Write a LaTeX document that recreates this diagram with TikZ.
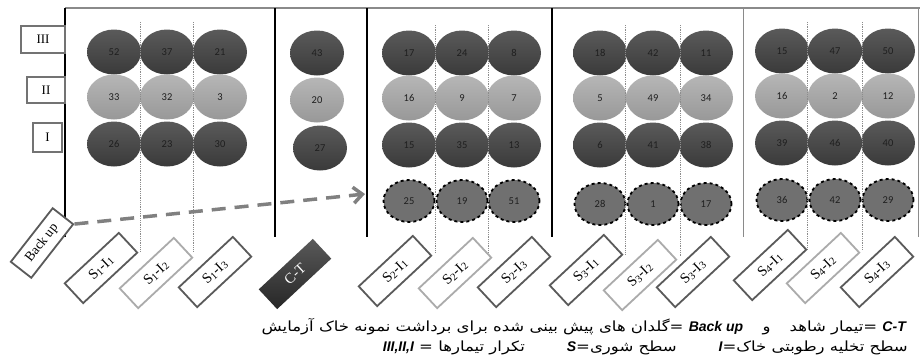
\documentclass[tikz,border=0pt]{standalone}
\usepackage{fontspec}
\setmainfont{Liberation Serif}
\newfontfamily\numfont{Carlito}
\newfontfamily\fafont[Script=Arabic,FakeStretch=1.18]{DejaVu Sans}
\newfontfamily\latbf{Liberation Sans}
\TeXXeTstate=1
\usetikzlibrary{shapes.geometric,arrows.meta}
\definecolor{darkA}{HTML}{5A5A5A}
\definecolor{darkB}{HTML}{3A3A3A}
\definecolor{lightA}{HTML}{B6B6B6}
\definecolor{lightB}{HTML}{989898}
\definecolor{bkgray}{HTML}{707070}
\definecolor{framegray}{HTML}{8A8A8A}
\definecolor{boxdark}{HTML}{5A5A5A}
\definecolor{boxlight}{HTML}{ABABAB}
\newcommand\lat[1]{{\latbf\bfseries\itshape\beginL #1\endL}}
\newcommand\subd[1]{\raisebox{-0.2ex}{\fontsize{10.5}{10.5}\selectfont #1}}
\newcommand\si[2]{S\subd{#1}-I\subd{#2}}
\tikzset{
  pot/.style={ellipse, minimum width=54pt, minimum height=45pt, inner sep=0pt,
    font=\numfont\fontsize{10.5}{10.5}\selectfont, text=black!88},
  dk/.style={pot, top color=darkA, bottom color=darkB},
  lt/.style={pot, top color=lightA, bottom color=lightB},
  bk/.style={pot, fill=bkgray, draw=black, dashed, line width=1.8pt,
    minimum width=51pt, minimum height=42pt},
  thickline/.style={line width=2.6pt, black},
  thinline/.style={line width=1pt, framegray},
  dotline/.style={line width=0.8pt, black!45, densely dotted},
  rowbox/.style={draw=black!55, line width=2.2pt, fill=white, inner sep=0pt,
    font=\fontsize{13}{13}\selectfont},
  lbox/.style={draw=boxdark, line width=1.8pt, fill=white, rotate=43,
    minimum width=74pt, minimum height=27pt, inner sep=0pt,
    font=\fontsize{14.5}{14.5}\selectfont},
  lboxl/.style={lbox, draw=boxlight},
  ctbox/.style={lbox, draw=none, top color=black!65, bottom color=black!85,
    text=white},
  bkarrow/.style={line width=3.5pt, color=black!50, dash pattern=on 14pt off 9pt,
    -{Straight Barb[length=9pt,width=16pt]}},
  note/.style={anchor=east, inner sep=0pt, font=\fafont\fontsize{14}{16}\selectfont}
}
\begin{document}
\begin{tikzpicture}[x=1pt,y=-1pt]
\useasboundingbox (0,0) rectangle (920,362);
% frame
\draw[line width=1.5pt, framegray] (65,8) -- (920,8);
\foreach \xx in {65,275,367,552} \draw[thickline] (\xx,8) -- (\xx,237);
\foreach \xx in {743,918} \draw[thinline] (\xx,8) -- (\xx,237);
% row labels
\node[rowbox, minimum width=44pt, minimum height=27pt] (rIII) at (43,39.5) {III};
\node[rowbox, minimum width=38pt, minimum height=26pt] (rII) at (46,90) {II};
\node[rowbox, minimum width=29pt, minimum height=29pt] (rI) at (47.5,137.5) {I};
% S1
\node[dk] (a31) at (114,52) {52}; \node[dk] (a32) at (167,52) {37}; \node[dk] (a33) at (220,52) {21};
\node[lt] (a21) at (114,97) {33}; \node[lt] (a22) at (167,97) {32}; \node[lt] (a23) at (220,97) {3};
\node[dk] (a11) at (114,144) {26}; \node[dk] (a12) at (167,144) {23}; \node[dk] (a13) at (220,144) {30};
% C-T
\node[dk] (c3) at (317,53) {43};
\node[lt] (c2) at (317,100) {20};
\node[dk] (c1) at (320,148) {27};
% S2
\node[dk] (b31) at (409,53) {17}; \node[dk] (b32) at (462,53) {24}; \node[dk] (b33) at (514,53) {8};
\node[lt] (b21) at (409,98) {16}; \node[lt] (b22) at (462,98) {9}; \node[lt] (b23) at (514,98) {7};
\node[dk] (b11) at (409,145) {15}; \node[dk] (b12) at (462,145) {35}; \node[dk] (b13) at (514,145) {13};
\node[bk] (b01) at (409,201) {25}; \node[bk] (b02) at (462,201) {19}; \node[bk] (b03) at (514,201) {51};
% S3
\node[dk] (d31) at (600,53) {18}; \node[dk] (d32) at (653,53) {42}; \node[dk] (d33) at (706,53) {11};
\node[lt] (d21) at (600,98) {5}; \node[lt] (d22) at (653,98) {49}; \node[lt] (d23) at (706,98) {34};
\node[dk] (d11) at (600,145) {6}; \node[dk] (d12) at (653,145) {41}; \node[dk] (d13) at (706,145) {38};
\node[bk] (d01) at (600,204) {28}; \node[bk] (d02) at (653,204) {1}; \node[bk] (d03) at (706,204) {17};
% S4
\node[dk] (e31) at (782,51) {15}; \node[dk] (e32) at (835,51) {47}; \node[dk] (e33) at (888,51) {50};
\node[lt] (e21) at (782,96) {16}; \node[lt] (e22) at (835,96) {2}; \node[lt] (e23) at (888,96) {12};
\node[dk] (e11) at (782,143) {39}; \node[dk] (e12) at (835,143) {46}; \node[dk] (e13) at (888,143) {40};
\node[bk] (e01) at (782,200) {36}; \node[bk] (e02) at (835,200) {42}; \node[bk] (e03) at (888,200) {29};
% dotted separators
\foreach \xx/\ya/\yb in {140/22/252,193/22/252,435/25/252,488/25/252,625/25/254,680/25/256,807/22/250,862/22/250}
  \draw[dotline] (\xx,\ya) -- (\xx,\yb);
% label boxes
\node[lbox, rotate=9, minimum width=68pt, minimum height=26pt, font=\fontsize{13.5}{13.5}\selectfont] (bkbox) at (42,243) {Back up};
\node[lbox] (l11) at (101,268) {\si{1}{1}};
\node[lboxl] (l12) at (156,273) {\si{1}{2}};
\node[lbox] (l13) at (215,272) {\si{1}{3}};
\node[ctbox] (lct) at (295,274) {C-T};
\node[lbox] (l21) at (395,271) {\si{2}{1}};
\node[lboxl] (l22) at (455,273) {\si{2}{2}};
\node[lbox] (l23) at (514,272) {\si{2}{3}};
\node[lbox] (l31) at (586,270) {\si{3}{1}};
\node[lboxl] (l32) at (640,275) {\si{3}{2}};
\node[lbox] (l33) at (693,272) {\si{3}{3}};
\node[lbox] (l41) at (770,265) {\si{4}{1}};
\node[lboxl] (l42) at (823,268) {\si{4}{2}};
\node[lbox] (l43) at (877,272) {\si{4}{3}};
% back-up arrow
\coordinate (arrEnd) at (365,194);
\draw[bkarrow] (bkbox.south east) -- (arrEnd);
% notes
\node[note] (n1) at (906,327) {\beginR\lat{C-T} =تیمار شاهد \quad و \quad\lat{Back up} =گلدان های پیش بینی شده برای برداشت نمونه خاک آزمایش\endR};
\node[note] (n2) at (908,348) {\beginR سطح تخلیه رطوبتی خاک=\lat{I}\hspace{3em}سطح شوری=\lat{S}\hspace{3em}تکرار تیمارها = \lat{III,II,I}\endR};
\end{tikzpicture}
\end{document}
